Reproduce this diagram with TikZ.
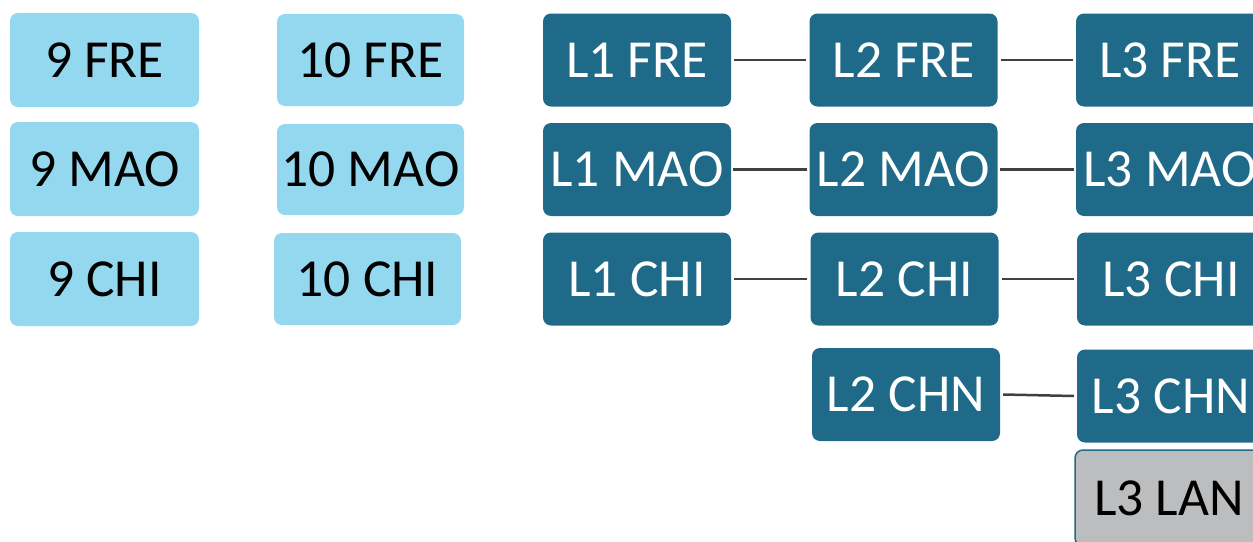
\documentclass[tikz,border=0pt]{standalone}
\usepackage{fontspec}
\setmainfont{Carlito}
\definecolor{lightbox}{HTML}{93D8EE}
\definecolor{darkbox}{HTML}{1F6A88}
\definecolor{graybox}{HTML}{BCBDBF}
\definecolor{conncol}{HTML}{404040}
\tikzset{
  basebox/.style={rounded corners=8pt, inner sep=0pt, text height=34pt, text depth=0pt,
    font=\fontsize{53.5}{62}\selectfont, minimum width=188pt, minimum height=93pt},
  lightnode/.style={basebox, fill=lightbox, text=black},
  darknode/.style={basebox, fill=darkbox, text=white},
  graynode/.style={basebox, fill=graybox, draw=darkbox, line width=1.5pt, text=black},
  conn/.style={draw=conncol, line width=2.5pt}
}
\begin{document}
\begin{tikzpicture}[x=1pt,y=-1pt]
\useasboundingbox (0,0) rectangle (1253,541);
\clip (0,0) rectangle (1253,541);
% light boxes
\node[lightnode, minimum width=189pt, minimum height=94pt] (f9) at (104.5,60) {9 FRE};
\node[lightnode, minimum width=189pt, minimum height=94pt] (m9) at (104.5,169) {9 MAO};
\node[lightnode, minimum width=189pt, minimum height=94pt] (c9) at (104.5,279) {9 CHI};
\node[lightnode, minimum width=187pt, minimum height=92pt] (f10) at (370.5,60) {10 FRE};
\node[lightnode, minimum width=187pt, minimum height=91pt] (m10) at (370.5,169.5) {10 MAO};
\node[lightnode, minimum width=187pt, minimum height=92pt] (c10) at (367.5,279) {10 CHI};
% dark boxes
\node[darknode] (l1f) at (637,60) {L1 FRE};
\node[darknode] (l2f) at (903.5,60) {L2 FRE};
\node[darknode] (l3f) at (1170,60) {L3 FRE};
\node[darknode] (l1m) at (637,169.5) {L1 MAO};
\node[darknode] (l2m) at (903.5,169.5) {L2 MAO};
\node[darknode] (l3m) at (1170,169.5) {L3 MAO};
\node[darknode] (l1c) at (637,279) {L1 CHI};
\node[darknode] (l2c) at (904.5,279) {L2 CHI};
\node[darknode] (l3c) at (1171,279) {L3 CHI};
\node[darknode] (l2n) at (906,394.5) {L2 CHN};
\node[darknode] (l3n) at (1171,396) {L3 CHN};
\node[graynode, minimum height=96pt] (l3l) at (1169,498) {L3 LAN};
% connectors
\draw[conn] ([xshift=3pt]l1f.east) -- ([xshift=-3pt]l2f.west);
\draw[conn] ([xshift=3pt]l2f.east) -- ([xshift=-3pt]l3f.west);
\draw[conn] ([xshift=2pt]l1m.east) -- ([xshift=-2pt]l2m.west);
\draw[conn] ([xshift=2pt]l2m.east) -- ([xshift=-2pt]l3m.west);
\draw[conn] ([xshift=3pt]l1c.east) -- ([xshift=-3pt]l2c.west);
\draw[conn] ([xshift=3pt]l2c.east) -- ([xshift=-3pt]l3c.west);
\draw[conn] ([xshift=3pt]l2n.east) -- ([xshift=-3pt]l3n.west);
\end{tikzpicture}
\end{document}
